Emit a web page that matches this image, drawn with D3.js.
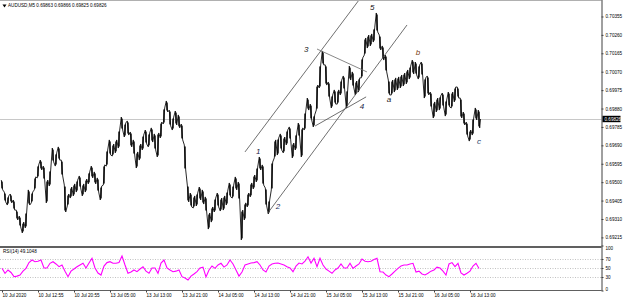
<!DOCTYPE html>
<html><head><meta charset="utf-8">
<script src="https://cdn.jsdelivr.net/npm/d3@7"></script>
<style>
html,body{margin:0;padding:0;background:#fff;}
svg{display:block;font-family:"Liberation Sans",Arial,sans-serif;}
</style></head><body>
<svg id="c" width="625" height="299"></svg>
<script>
// ---- data ----
const symbolTitle = "AUDUSD,M5";
const ohlcLast = ["0.69863","0.69866","0.69825","0.69826"];
const lastPrice = 0.69826;
const barsPerStep = 8; // each entry below spans 8 M5 bars
const high = [0.69511,0.69449,0.69429,0.69439,0.69408,0.69356,0.69325,0.69294,0.69346,0.69460,0.69449,0.69527,0.69589,0.69614,0.69583,0.69511,0.69563,0.69676,0.69651,0.69682,0.69614,0.69485,0.69439,0.69475,0.69491,0.69511,0.69532,0.69491,0.69516,0.69553,0.69583,0.69553,0.69522,0.69480,0.69589,0.69666,0.69718,0.69697,0.69718,0.69769,0.69836,0.69805,0.69816,0.69759,0.69718,0.69656,0.69697,0.69743,0.69769,0.69754,0.69780,0.69749,0.69754,0.69810,0.69883,0.69919,0.69872,0.69836,0.69867,0.69847,0.69800,0.69692,0.69485,0.69444,0.69429,0.69444,0.69475,0.69460,0.69424,0.69341,0.69372,0.69418,0.69444,0.69418,0.69429,0.69454,0.69496,0.69485,0.69527,0.69501,0.69356,0.69393,0.69444,0.69496,0.69537,0.69578,0.69630,0.69589,0.69470,0.69408,0.69604,0.69718,0.69728,0.69749,0.69733,0.69769,0.69785,0.69702,0.69749,0.69805,0.69780,0.69862,0.69934,0.69903,0.69847,0.70001,0.70105,0.70177,0.70105,0.70017,0.69950,0.69976,0.69976,0.70027,0.70048,0.69976,0.70099,0.70069,0.70022,0.70038,0.70141,0.70244,0.70259,0.70265,0.70296,0.70373,0.70259,0.70203,0.70156,0.70027,0.70027,0.70038,0.70043,0.70053,0.70063,0.70079,0.70099,0.70130,0.70120,0.70105,0.70120,0.70038,0.70048,0.69965,0.69914,0.69934,0.69945,0.69960,0.69924,0.69965,0.69965,0.69991,0.69991,0.69934,0.69862,0.69810,0.69769,0.69831,0.69883,0.69872];
const low = [0.69460,0.69398,0.69382,0.69393,0.69356,0.69305,0.69269,0.69238,0.69264,0.69382,0.69393,0.69460,0.69522,0.69563,0.69511,0.69393,0.69480,0.69604,0.69583,0.69614,0.69532,0.69346,0.69377,0.69418,0.69429,0.69449,0.69470,0.69429,0.69449,0.69491,0.69522,0.69491,0.69449,0.69408,0.69485,0.69583,0.69640,0.69635,0.69651,0.69676,0.69769,0.69733,0.69743,0.69682,0.69640,0.69573,0.69614,0.69666,0.69697,0.69682,0.69707,0.69666,0.69630,0.69728,0.69800,0.69862,0.69790,0.69769,0.69795,0.69780,0.69718,0.69563,0.69398,0.69372,0.69367,0.69377,0.69408,0.69387,0.69346,0.69258,0.69294,0.69346,0.69372,0.69351,0.69356,0.69382,0.69424,0.69418,0.69460,0.69408,0.69202,0.69305,0.69372,0.69424,0.69465,0.69501,0.69563,0.69485,0.69377,0.69336,0.69460,0.69625,0.69640,0.69666,0.69651,0.69692,0.69718,0.69625,0.69666,0.69733,0.69630,0.69769,0.69872,0.69821,0.69785,0.69872,0.69986,0.70105,0.70001,0.69934,0.69883,0.69903,0.69903,0.69950,0.69976,0.69883,0.70027,0.69991,0.69950,0.69965,0.70038,0.70156,0.70192,0.70203,0.70223,0.70275,0.70182,0.70130,0.70069,0.69950,0.69950,0.69965,0.69976,0.69986,0.69996,0.70007,0.70032,0.70058,0.70053,0.70032,0.70048,0.69934,0.69950,0.69883,0.69831,0.69862,0.69872,0.69888,0.69841,0.69888,0.69883,0.69914,0.69934,0.69831,0.69795,0.69738,0.69712,0.69743,0.69821,0.69780];
const rsi = [49.3,38.2,45.6,40,30.7,32,34.4,43,49.3,62,67.8,64,65,67.8,50,50,60.4,64,59,52.9,56.7,43,30.7,43,47.8,52.9,56.7,60.4,50,61,71.6,50,38.9,34.4,54.4,62,64,60.4,60.4,62,76.7,56.7,38.2,41,45.6,41.8,47.8,52.9,43,38.2,50,50,38.2,61,67.8,50,45.6,41.8,43,45.6,30.7,27.8,23.3,32,36.7,41.8,50,52,30,45.6,54.4,49.3,56.7,60.4,52,56.7,67.8,59,45.6,32,41,56.7,59,61,62,64,56.7,45.6,41,54.4,59,60.4,61,59,56.7,52.9,50,41.8,54.4,61,59,65,75,61,71.6,52.9,71.6,56.7,47.8,43,38.2,45.6,50,59,50,50,60.4,49.3,54.4,59,70,65,64,65,69,71.6,41.8,41,34.4,30.7,36.7,43,49.3,54.4,56.7,56.7,59,60.4,41,43,36.7,34.4,38.2,43,45.6,52,50,43,34.4,59,62,52.9,60.4,38.9,34.4,38.2,43,54.4,60.4,49.1];
const rsiLabel = "RSI(14) 49.1048";
const priceTicks = [0.70355,0.70260,0.70165,0.70070,0.69975,0.69880,0.69785,0.69690,0.69595,0.69500,0.69405,0.69310,0.69215];
const rsiTicks = [100,70,50,30,0];
const rsiLevels = [70,50,30];
const timeLabels = ["10 Jul 2020","10 Jul 12:55","10 Jul 20:55","13 Jul 05:00","13 Jul 13:00","13 Jul 21:00","14 Jul 05:00","14 Jul 13:00","14 Jul 21:00","15 Jul 05:00","15 Jul 13:00","15 Jul 21:00","16 Jul 05:00","16 Jul 13:00"];
const barsPerLabel = 96;
// hand-drawn objects (bar index, price)
const trendLines = [
  {from:[648,0.69656], to:[952,0.70440], c:"#4a4a4a"},
  {from:[709,0.69341], to:[1080,0.70311], c:"#4a4a4a"},
  {from:[835,0.69790], to:[971,0.69940], c:"#4a4a4a"},
  {from:[840,0.70187], to:[973,0.70069], c:"#6a6a6a"}
];
const waveNames = ["1","2","3","4","5","a","b","c"];
const waveBars = [683,736,811,960,987,1032,1109,1272];
const wavePrices = [0.69656,0.69372,0.70187,0.69893,0.70399,0.69924,0.70167,0.69712];
const waveColors = ["#1c2448","#1c3060","#111111","#1c2448","#111111","#222222","#7a3d10","#1c3a66"];

// ---- layout ----
const W = 625, H = 299;
const plotR = 601.5;
const mainTop = 0, mainBot = 246;
const rsiTop = 247, rsiBot = 290;
const svg = d3.select("#c");

const x = d3.scaleLinear().domain([0, 1600]).range([2, 602]);
const y = d3.scaleLinear().domain([0.691706, 0.70440]).range([mainBot, 0]);
const yr = d3.scaleLinear().domain([0, 100]).range([290.5, 245.5]);

svg.append("rect").attr("width", W).attr("height", H).attr("fill", "#fff");

svg.append("clipPath").attr("id","cm").append("rect")
  .attr("x",0).attr("y",mainTop+1).attr("width",plotR).attr("height",mainBot-mainTop-1);
svg.append("clipPath").attr("id","cr").append("rect")
  .attr("x",0).attr("y",rsiTop+1).attr("width",plotR).attr("height",rsiBot-rsiTop-1);

// current price line
svg.append("line").attr("x1",0).attr("x2",plotR)
  .attr("y1",Math.round(y(lastPrice))+0.5).attr("y2",Math.round(y(lastPrice))+0.5)
  .attr("stroke","#c8c8c8").attr("stroke-width",1);

const gM = svg.append("g").attr("clip-path","url(#cm)");
// price bars: one hi-lo block per step
gM.selectAll("rect.bar").data(high).join("rect").attr("class","bar")
  .attr("x",(d,i)=>x(i*barsPerStep)-0.8).attr("width",1.6)
  .attr("y",d=>y(d)+1.5).attr("height",(d,i)=>Math.max(1,y(low[i])-y(d)-3))
  .attr("fill","#222");
// connecting jagged line
const pts = [];
high.forEach((h,i)=>{
  const xi = x(i*barsPerStep);
  const up = i < high.length-1 ? (high[i+1]+low[i+1]) > (h+low[i]) : false;
  if (up){ pts.push([xi-0.7, y(low[i])]); pts.push([xi+0.7, y(h)]); }
  else { pts.push([xi-0.7, y(h)]); pts.push([xi+0.7, y(low[i])]); }
});
pts.push([x((high.length-1)*barsPerStep)+1.5, y(lastPrice)]);
gM.append("path").attr("d", d3.line()(pts)).attr("fill","none")
  .attr("stroke","#000").attr("stroke-width",0.85);

// trend lines
gM.selectAll("line.tl").data(trendLines).join("line").attr("class","tl")
  .attr("x1",d=>x(d.from[0])).attr("y1",d=>y(d.from[1]))
  .attr("x2",d=>x(d.to[0])).attr("y2",d=>y(d.to[1]))
  .attr("stroke",d=>d.c).attr("stroke-width",0.8);

// wave labels
gM.selectAll("text.w").data(waveNames).join("text").attr("class","w")
  .attr("x",(d,i)=>x(waveBars[i])).attr("y",(d,i)=>y(wavePrices[i]))
  .attr("text-anchor","middle").attr("dominant-baseline","central")
  .attr("font-size",8).attr("font-style","italic")
  .attr("font-family","'Liberation Sans',Arial,sans-serif")
  .attr("fill",(d,i)=>waveColors[i]).text(d=>d);

// title
svg.append("path").attr("d","M2.5,4.5 L6.5,4.5 L4.5,7.5 Z").attr("fill","#000");
svg.append("text").attr("x",8).attr("y",7.2).attr("font-size",4.6).attr("fill","#000")
  .text(symbolTitle + "  " + ohlcLast.join(" "));

// RSI
svg.selectAll("line.lvl").data(rsiLevels).join("line").attr("class","lvl")
  .attr("x1",0).attr("x2",plotR).attr("y1",d=>Math.round(yr(d))+0.5).attr("y2",d=>Math.round(yr(d))+0.5)
  .attr("stroke","#a8a8a8").attr("stroke-width",0.7).attr("stroke-dasharray","1,1.5");
const gR = svg.append("g").attr("clip-path","url(#cr)");
gR.append("path").attr("d", d3.line().x((d,i)=>x(i*barsPerStep)).y(d=>yr(d))(rsi))
  .attr("fill","none").attr("stroke","#ff00ff").attr("stroke-width",1.1);
svg.append("text").attr("x",3).attr("y",252.5).attr("font-size",4.6).attr("fill","#000").text(rsiLabel);

// frames
svg.append("line").attr("x1",0).attr("x2",plotR).attr("y1",0.5).attr("y2",0.5).attr("stroke","#b0b0b0");
svg.append("line").attr("x1",0).attr("x2",plotR).attr("y1",mainBot+0.5).attr("y2",mainBot+0.5).attr("stroke","#606060");
svg.append("line").attr("x1",0).attr("x2",plotR).attr("y1",rsiTop+0.5).attr("y2",rsiTop+0.5).attr("stroke","#606060");
svg.append("line").attr("x1",0).attr("x2",plotR).attr("y1",rsiBot+0.5).attr("y2",rsiBot+0.5).attr("stroke","#606060");

// price axis
const ax = svg.append("g").attr("transform",`translate(${plotR},0)`)
  .call(d3.axisRight(y).tickValues(priceTicks).tickFormat(d3.format(".5f")).tickSize(2).tickPadding(2));
ax.select(".domain").attr("stroke","#404040").attr("d",`M0.5,0V${rsiBot+1}`);
ax.selectAll("text").attr("font-size",4.6).attr("fill","#000").attr("font-family","'Liberation Sans',Arial,sans-serif");
ax.selectAll("line").attr("stroke","#404040");

// last price tag
const ly = y(lastPrice);
svg.append("rect").attr("x",plotR+1).attr("y",ly-3.2).attr("width",18).attr("height",6.4).attr("fill","#000");
svg.append("text").attr("x",plotR+3).attr("y",ly+1.7).attr("font-size",4.6).attr("fill","#fff").text(d3.format(".5f")(lastPrice));

// rsi axis
const ar = svg.append("g").attr("transform",`translate(${plotR},0)`)
  .call(d3.axisRight(yr).tickValues(rsiTicks).tickFormat(d=>d).tickSize(2).tickPadding(2));
ar.select(".domain").remove();
ar.selectAll("text").attr("font-size",4.6).attr("fill","#000").attr("font-family","'Liberation Sans',Arial,sans-serif")
  .attr("dy",(d)=> d===100 ? "0.9em" : (d===0 ? "-0.1em" : "0.32em"));
ar.selectAll("line").attr("stroke","#404040");

// time axis
const tb = timeLabels.map((d,i)=>i*barsPerLabel);
const at = svg.append("g").attr("transform",`translate(0,${rsiBot+0.5})`)
  .call(d3.axisBottom(x).tickValues(tb).tickFormat((d,i)=>timeLabels[i]).tickSize(2).tickPadding(1.5));
at.select(".domain").remove();
at.selectAll("line").attr("stroke","#404040");
at.selectAll("text").attr("font-size",4.6).attr("fill","#000").attr("text-anchor","start")
  .attr("font-family","'Liberation Sans',Arial,sans-serif");
</script>
</body></html>
